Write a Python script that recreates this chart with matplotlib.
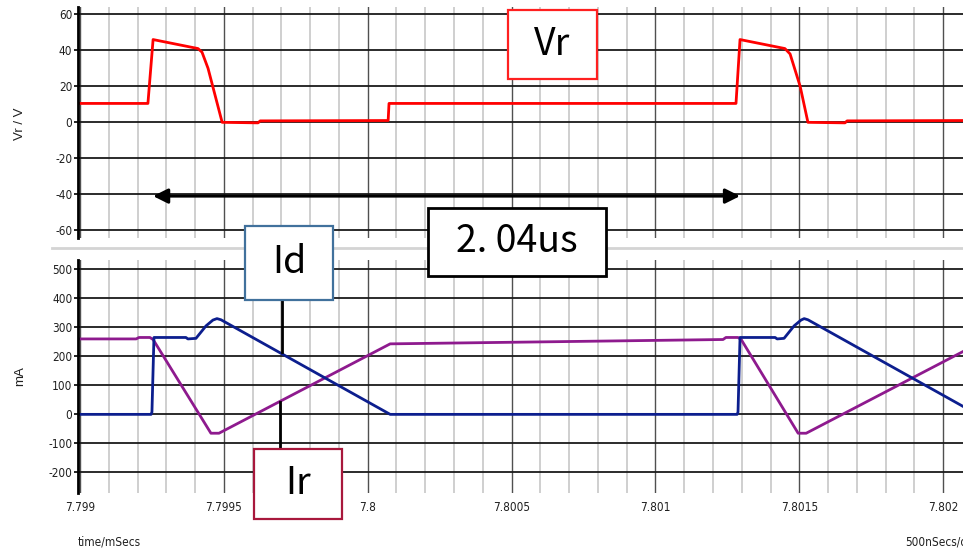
import matplotlib
matplotlib.use("Agg")
import matplotlib.pyplot as plt
from matplotlib import font_manager
from matplotlib.patches import Rectangle
from matplotlib.lines import Line2D
from matplotlib.ticker import MultipleLocator

plt.rcParams["axes.unicode_minus"] = False

W, H = 963, 549

# ---- axis ticks ----
x_ticks = [7.799, 7.7995, 7.8, 7.8005, 7.801, 7.8015, 7.802]
x_tick_labels = ["7.799", "7.7995", "7.8", "7.8005", "7.801", "7.8015", "7.802"]
vr_ticks = [-60, -40, -20, 0, 20, 40, 60]
ma_ticks = [-200, -100, 0, 100, 200, 300, 400, 500]

# ---- waveforms (time in ms) ----
t_vr = [7.798990, 7.799236, 7.799254, 7.799410, 7.799424, 7.799445, 7.799494,
        7.799619, 7.799626, 7.800071, 7.800074, 7.801280, 7.801294, 7.801450,
        7.801468, 7.801503, 7.801530, 7.801659, 7.801666, 7.802070]
vr = [10.5, 10.5, 46, 41, 39, 30, 0, -0.3, 0.8, 1.0, 10.5, 10.5, 46, 41,
      38, 20, 0, -0.3, 0.8, 1.0]

t_id = [7.798990, 7.799247, 7.799250, 7.799257, 7.799368, 7.799375, 7.799403,
        7.799438, 7.799462, 7.799476, 7.799490, 7.800078, 7.801284, 7.801287,
        7.801294, 7.801416, 7.801423, 7.801447, 7.801482, 7.801506, 7.801517,
        7.801530, 7.802070]
i_d = [0, 0, 8, 265, 265, 260, 262, 305, 325, 330, 326, 0, 0, 8,
       265, 265, 260, 262, 305, 325, 330, 326, 27]

t_ir = [7.798990, 7.799195, 7.799205, 7.799243, 7.799254, 7.799455, 7.799483,
        7.800078, 7.801235, 7.801245, 7.801287, 7.801298, 7.801496, 7.801524,
        7.802070]
i_r = [260, 260, 265, 265, 258, -65, -65, 243, 258, 265, 265, 258, -65, -65, 217]

# period marker: between the two rising edges of Vr
edge_ms = 7.799254
period_ms = 0.00204
arrow_v = -41

RED = "#ff0000"
BLUE = "#0c1e8e"
PURPLE = "#8e1a8e"

# pick a narrow face for the scope-style labels if one is installed
_faces = font_manager.fontManager.ttflist
_names = {f.name for f in _faces}
if "Liberation Sans Narrow" in _names:
    TICK_FONT = dict(family=["Liberation Sans Narrow", "DejaVu Sans"], size=9)
elif any(f.name == "DejaVu Sans" and f.stretch == "condensed" for f in _faces):
    TICK_FONT = dict(family=["DejaVu Sans"], stretch="condensed", size=8.5)
else:
    TICK_FONT = dict(family=["Liberation Sans", "DejaVu Sans"], size=8)
LABEL_FONT = ["Liberation Sans", "DejaVu Sans"]
BOX_FONT = ["Noto Sans CJK JP", "DejaVu Sans"]


def fx(px):
    return px / W


def fy(py):
    return 1 - py / H


fig = plt.figure(figsize=(W / 100, H / 100), dpi=100)
fig.patch.set_facecolor("white")

xlim = (7.798993, 7.802069)

ax1 = fig.add_axes([fx(78), fy(238), fx(W - 78), (238 - 7) / H])
ax2 = fig.add_axes([fx(78), fy(493), fx(W - 78), (493 - 260) / H])


def style(ax, yticks, ylim, show_x):
    ax.set_xlim(*xlim)
    ax.set_ylim(*ylim)
    for s in ("top", "right", "bottom"):
        ax.spines[s].set_visible(False)
    ax.spines["left"].set_linewidth(2.0)
    ax.spines["left"].set_color("black")
    ax.set_xticks(x_ticks)
    ax.xaxis.set_minor_locator(MultipleLocator(0.0001))
    ax.set_yticks(yticks)
    ax.tick_params(axis="x", which="both", length=0, pad=6)
    ax.tick_params(axis="y", length=3, width=1.2, pad=1, color="black")
    ax.grid(which="minor", axis="x", color="#cfcfcf", lw=1.4)
    ax.grid(which="major", axis="x", color="#505050", lw=1.0)
    ax.grid(which="major", axis="y", color="#1a1a1a", lw=1.3)
    ax.set_axisbelow(True)
    if show_x:
        ax.set_xticklabels(x_tick_labels)
    else:
        ax.set_xticklabels([])
    for lab in ax.get_xticklabels() + ax.get_yticklabels():
        lab.set_fontfamily(TICK_FONT["family"])
        lab.set_fontsize(TICK_FONT["size"])
        if "stretch" in TICK_FONT:
            lab.set_fontstretch(TICK_FONT["stretch"])
        lab.set_color("#202020")


style(ax1, vr_ticks, (-64.3, 64.1), False)
style(ax2, ma_ticks, (-271, 532), True)

ax1.plot(t_vr, vr, color=RED, lw=2.0, solid_joinstyle="round")
ax2.plot(t_ir, i_r, color=PURPLE, lw=2.0, solid_joinstyle="round")
ax2.plot(t_id, i_d, color=BLUE, lw=2.0, solid_joinstyle="round")

ax1.annotate("", xy=(edge_ms, arrow_v), xytext=(edge_ms + period_ms, arrow_v),
             arrowprops=dict(arrowstyle="<|-|>", color="black", lw=2.2,
                             mutation_scale=22, shrinkA=0, shrinkB=0))

# axis captions
fig.text(fx(20), fy(124), "Vr / V", rotation=90, ha="center", va="center",
         fontsize=9.5, family=LABEL_FONT, color="#202020")
fig.text(fx(20), fy(376), "mA", rotation=90, ha="center", va="center",
         fontsize=9.5, family=LABEL_FONT, color="#202020")
fig.text(fx(78), fy(542), "time/mSecs", ha="left", va="center",
         color="#202020", **{k if k != "size" else "fontsize": v for k, v in TICK_FONT.items()})
fig.text(fx(905), fy(542), "500nSecs/div", ha="left", va="center",
         color="#202020", **{k if k != "size" else "fontsize": v for k, v in TICK_FONT.items()})

# divider between the panels
fig.add_artist(Line2D([fx(52), 1.0], [fy(248), fy(248)], color="#d4d4d4", lw=2.0))

# connector lines for the current callouts
fig.add_artist(Line2D([fx(282), fx(282)], [fy(300), fy(352)], color="black", lw=2.0))
fig.add_artist(Line2D([fx(280), fx(280)], [fy(402), fy(449)], color="black", lw=2.0))


def callout(x0, y0, x1, y1, text, edge, lw=1.6, size=27):
    fig.add_artist(Rectangle((fx(x0), fy(y1)), (x1 - x0) / W, (y1 - y0) / H,
                             transform=fig.transFigure, facecolor="white",
                             edgecolor=edge, lw=lw, zorder=5))
    fig.text(fx((x0 + x1) / 2), fy((y0 + y1) / 2), text, ha="center", va="center",
             fontsize=size, family=BOX_FONT, color="black", zorder=6)


callout(508, 10, 597, 79, "Vr", "#ff2020")
callout(428, 208, 606, 276, "2. 04us", "black", lw=2.0)
callout(245, 226, 333, 300, "Id", "#41719c")
callout(254, 449, 342, 519, "Ir", "#a8183c")

fig.savefig("out.png", dpi=100, facecolor="white")
